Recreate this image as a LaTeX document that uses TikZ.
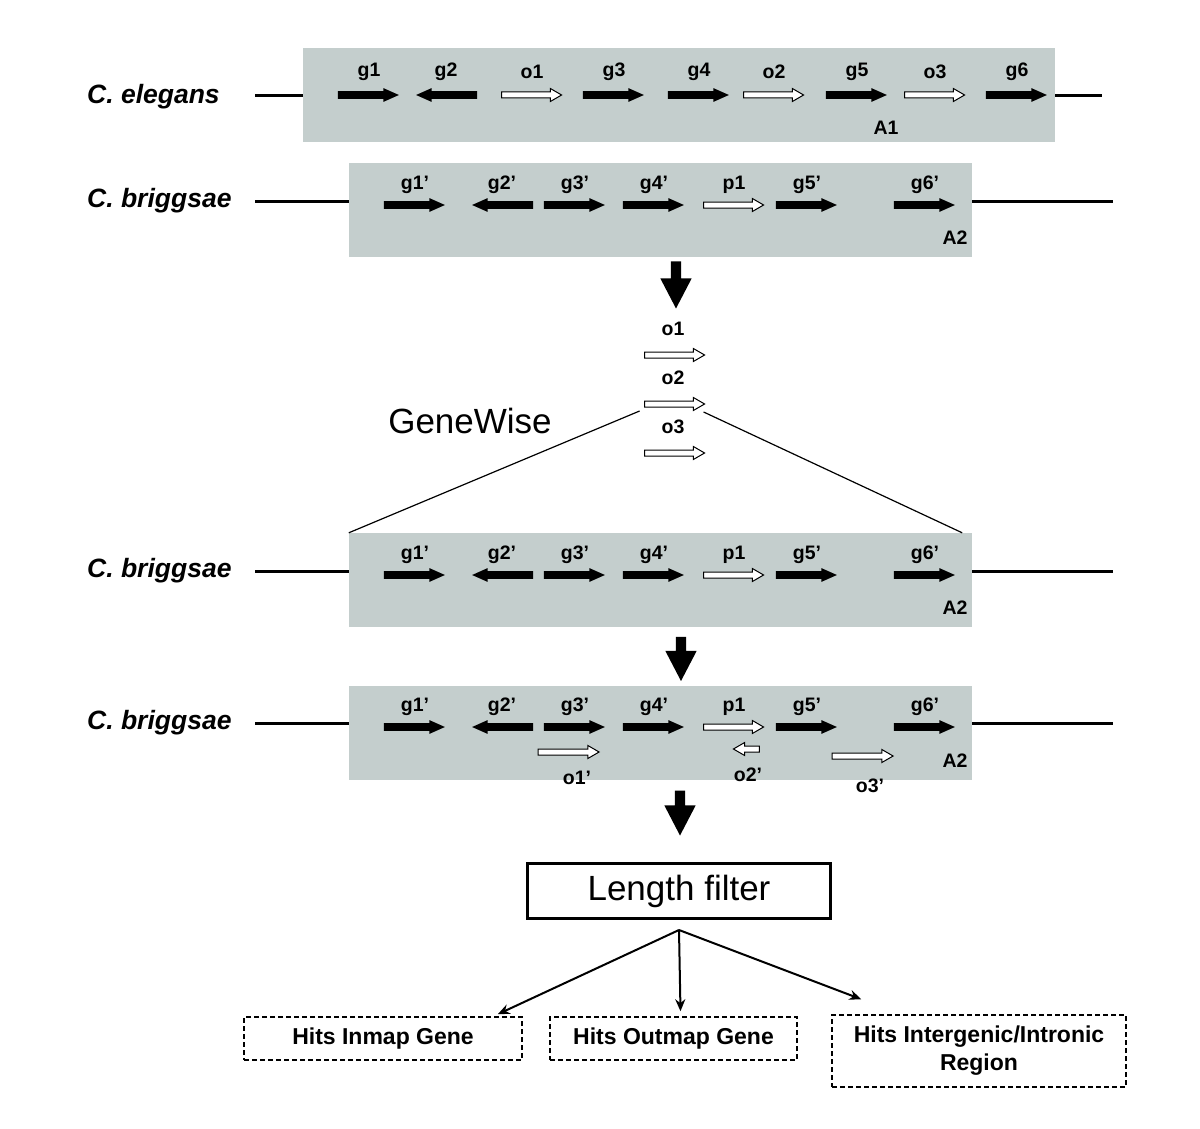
\documentclass[tikz,border=0pt]{standalone}
\usepackage{fontspec}
\setmainfont{Liberation Sans}
\usetikzlibrary{shapes.arrows,positioning,calc,arrows.meta}
\definecolor{regiongray}{RGB}{196,206,205}

\tikzset{
  region/.style={fill=regiongray,inner sep=0pt,minimum height=94pt},
  chrom/.style={line width=3pt},
  fwd/.style={single arrow,fill=black,inner xsep=0pt,inner ysep=3.7pt,outer sep=0pt,
    single arrow head extend=3pt,single arrow tip angle=48,minimum height=61pt,xshift=-5pt},
  rev/.style={fwd,shape border rotate=180,xshift=10pt},
  orth/.style={single arrow,draw=black,fill=white,line width=1pt,inner xsep=0pt,inner ysep=2.5pt,
    outer sep=0pt,single arrow head extend=3.5pt,single arrow tip angle=60,minimum height=60pt,
    xshift=-3pt},
  orthrev/.style={orth,shape border rotate=180,xshift=6pt},
  bigdown/.style={single arrow,fill=black,shape border rotate=270,inner xsep=5pt,inner ysep=0pt,
    outer sep=0pt,single arrow head extend=10.5pt,single arrow tip angle=55,minimum height=47pt},
  glabel/.style={font=\bfseries\fontsize{19.5}{22}\selectfont,inner sep=0pt},
  species/.style={font=\bfseries\itshape\fontsize{26.5}{30}\selectfont,anchor=west,inner sep=0pt},
  hitbox/.style={draw,dashed,dash pattern=on 5pt off 3pt,line width=1.5pt,align=center,
    font=\bfseries\fontsize{23}{28}\selectfont},
  branch/.style={line width=2pt,-{Stealth[length=12pt,width=10pt]}}
}

\begin{document}
\begin{tikzpicture}[x=1pt,y=1pt]
\useasboundingbox (0,0) rectangle (1200,-1129);

% C. elegans row
\draw[chrom] (255,-96) -- (1102,-96);
\node[region,minimum width=752pt] (cebox) at (679,-95) {};
\node[species] (ce-name) at (87,-97) {C. elegans};
\foreach \n/\x/\s in {g1/369/fwd, g2/446/rev, o1/532/orth, g3/614/fwd, g4/699/fwd,
    o2/774/orth, g5/857/fwd, o3/935/orth, g6/1017/fwd}{
  \node[\s] (ce-\n) at (\x,-95) {};
  \node[glabel] (ce-\n-t) at (\x,-72) {\n};
}
\node[glabel] (ce-a1) at (886,-128) {A1};

% C. briggsae rows
\foreach \r/\y/\by in {b1/201/210, b2/571/580, b3/723/733}{
  \draw[chrom] (255,-\y) -- (1113,-\y);
  \node[region,minimum width=623pt] (\r box) at (660.5,-\by) {};
  \node[species] (\r-name) at (87,-\y) {C. briggsae};
  \foreach \n/\t/\x/\s in {g1/g1’/415/fwd, g2/g2’/502/rev, g3/g3’/575/fwd, g4/g4’/654/fwd,
      p1/p1/734/orth, g5/g5’/807/fwd, g6/g6’/925/fwd}{
    \node[\s] (\r-\n) at (\x,{-\y-4}) {};
    \node[glabel] (\r-\n-t) at (\x,{-\y+16}) {\t};
  }
  \node[glabel] (\r-a2) at (955,{-\by-28}) {A2};
}

% GeneWise hits in the last row
\node[orth,minimum height=61pt] (b3-o1) at (569,-752) {};
\node[glabel] (b3-o1-t) at (577,-778) {o1’};
\node[orthrev,minimum height=26pt] (b3-o2) at (746,-749) {};
\node[glabel] (b3-o2-t) at (748,-775) {o2’};
\node[orth,minimum height=61pt] (b3-o3) at (863,-756) {};
\node[glabel] (b3-o3-t) at (870,-786) {o3’};

% orthologs passed to GeneWise
\node[bigdown] (down1) at (676,-280) {};
\foreach \n/\y in {o1/355, o2/404, o3/453}{
  \node[orth] (m-\n) at (675,-\y) {};
  \node[glabel] (m-\n-t) at (673,{-\y+26}) {\n};
}
\node[font=\fontsize{35}{40}\selectfont,inner sep=0pt] (gw) at (470,-421) {GeneWise};
\draw[line width=1.2pt] ($(m-o2.west)+(-5,-7)$) -- (b2box.north west);
\draw[line width=1.2pt] ($(m-o2.east)+(-1,-8)$) -- ($(b2box.north east)+(-10,0)$);

\node[bigdown,minimum height=44pt] (down2) at (681,-654) {};
\node[bigdown,minimum height=45pt] (down3) at (680,-808) {};

% length filter and outcome
\node[draw,line width=3pt,minimum width=303pt,minimum height=55pt,
  font=\fontsize{35}{40}\selectfont] (lf) at (679,-891) {Length filter};
\node[hitbox,minimum width=278pt,minimum height=43pt] (inmap) at (383,-1038.5) {Hits Inmap Gene};
\node[hitbox,minimum width=247pt,minimum height=43pt] (outmap) at (673.5,-1038.5) {Hits Outmap Gene};
\node[hitbox,minimum width=294pt,minimum height=72pt] (inter) at (979,-1051)
  {Hits Intergenic/Intronic\\Region};
\coordinate (split) at ($(lf.south)+(0,-10)$);
\draw[branch] (split) -- ($(inmap.north east)+(-25,2)$);
\draw[branch] (split) -- ($(outmap.north)+(7,5)$);
\draw[branch] (split) -- ($(inter.north west)+(30,15)$);
\end{tikzpicture}
\end{document}
